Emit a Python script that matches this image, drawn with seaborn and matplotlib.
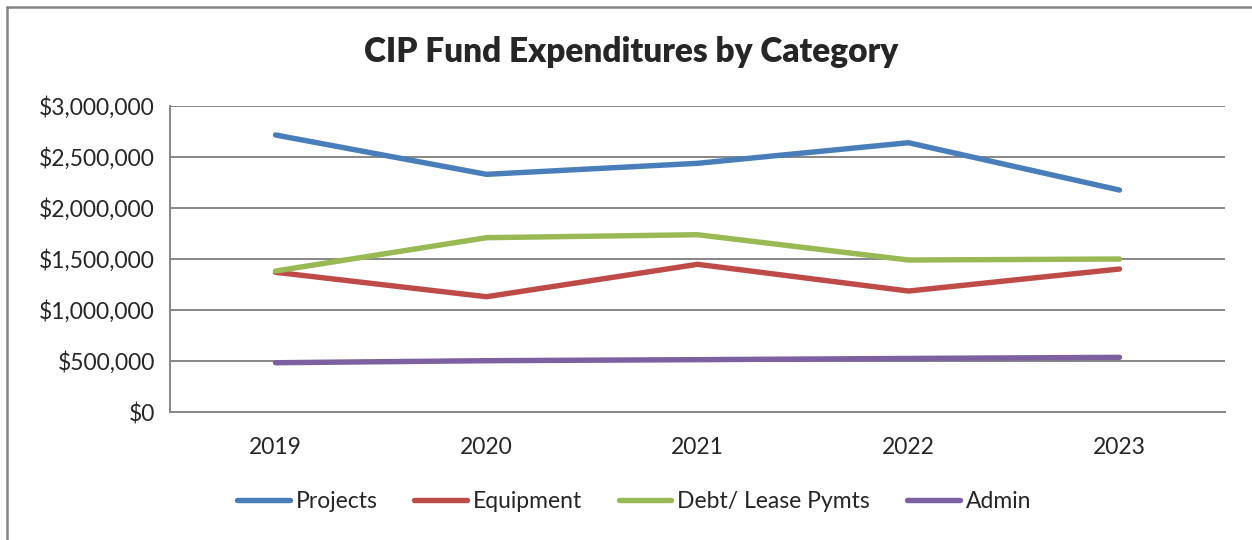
import pandas as pd
import matplotlib.pyplot as plt
import seaborn as sns
from matplotlib.ticker import FuncFormatter, FixedLocator
from matplotlib.lines import Line2D

# Datos
years = ["2019", "2020", "2021", "2022", "2023"]
projects = [2716000, 2330000, 2438000, 2640000, 2176000]
equipment = [1370000, 1130000, 1448000, 1186000, 1402000]
debt_lease = [1382000, 1709000, 1738000, 1490000, 1500000]
admin = [483000, 503000, 513000, 525000, 536000]

series_names = ["Projects", "Equipment", "Debt/ Lease Pymts", "Admin"]
colors = {"Projects": "#4A7EBB", "Equipment": "#BE4B48",
          "Debt/ Lease Pymts": "#98B954", "Admin": "#7D60A0"}

frames = []
for name, vals in zip(series_names, [projects, equipment, debt_lease, admin]):
    frames.append(pd.DataFrame({"Year": years, "Value": vals, "Category": name}))
df = pd.concat(frames, ignore_index=True)

sns.set_style("white")
plt.rcParams['font.family'] = ['Lato', 'DejaVu Sans']

fig = plt.figure(figsize=(12.52, 5.4), dpi=100)
ax = fig.add_axes([170 / 1252, 1 - 412 / 540, 1055 / 1252, 306 / 540])

sns.lineplot(data=df, x="Year", y="Value", hue="Category", palette=colors,
             linewidth=3.9, solid_capstyle="round", legend=False, ax=ax)

grid_col = "#868686"
ax.set_xlim(-0.5, 4.5)
ax.set_ylim(0, 3000000)
ax.set_yticks(range(0, 3000001, 500000))
ax.yaxis.set_major_formatter(FuncFormatter(lambda v, p: f"${v:,.0f}"))
ax.grid(axis="y", color=grid_col, linewidth=1.4)
ax.set_axisbelow(True)

ax.set_xticks(range(len(years)))
ax.set_xticklabels(years)
ax.xaxis.set_minor_locator(FixedLocator([i - 0.5 for i in range(len(years) + 1)]))
ax.tick_params(axis="x", which="major", length=0, pad=18, labelsize=16.5)
ax.tick_params(axis="x", which="minor", length=7, width=1.2, color=grid_col, direction="out")
ax.tick_params(axis="y", length=7, width=1.2, color=grid_col, direction="out", pad=4, labelsize=16.5)

for s in ["top", "right"]:
    ax.spines[s].set_visible(False)
for s in ["left", "bottom"]:
    ax.spines[s].set_color(grid_col)
    ax.spines[s].set_linewidth(1.4)
ax.set_xlabel("")
ax.set_ylabel("")

fig.suptitle("CIP Fund Expenditures by Category", x=631 / 1252, y=1 - 52 / 540,
             va="center", fontsize=24, fontweight="heavy")

handles = [Line2D([0], [0], color=colors[n], linewidth=3.9, solid_capstyle="round")
           for n in series_names]
fig.legend(handles, series_names, loc="center", bbox_to_anchor=(634 / 1252, 1 - 502 / 540),
           ncol=4, frameon=False, fontsize=16.5, handlelength=2.3, handletextpad=0.26,
           columnspacing=1.6)

# Marco exterior del grafico
fig.add_artist(Line2D([7 / 1252, 7 / 1252], [0, 1 - 7 / 540], color=grid_col, linewidth=1.8,
                      transform=fig.transFigure))
fig.add_artist(Line2D([7 / 1252, 1], [1 - 7 / 540, 1 - 7 / 540], color=grid_col, linewidth=1.8,
                      transform=fig.transFigure))

fig.savefig("out.png", dpi=100)
